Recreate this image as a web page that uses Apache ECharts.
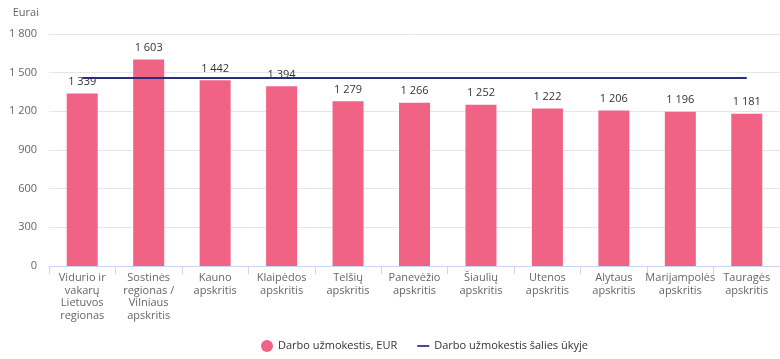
<!DOCTYPE html>
<html><head><meta charset="utf-8">
<script src="https://cdn.jsdelivr.net/npm/echarts@6/dist/echarts.min.js"></script>
<style>html,body{margin:0;padding:0;background:#fff}#c{width:780px;height:359px}</style>
</head><body><div id="c"></div>
<script>
const categories = ["Vidurio ir\nvakarų\nLietuvos\nregionas","Sostinės\nregionas /\nVilniaus\napskritis","Kauno\napskritis","Klaipėdos\napskritis","Telšių\napskritis","Panevėžio\napskritis","Šiaulių\napskritis","Utenos\napskritis","Alytaus\napskritis","Marijampolės\napskritis","Tauragės\napskritis"];
const wages = [1339,1603,1442,1394,1279,1266,1252,1222,1206,1196,1181];
const national = [1458,1458,1458,1458,1458,1458,1458,1458,1458,1458,1458];
const yTicks = {min:0, max:1800, interval:300};
const fmt = v => String(v).replace(/\B(?=(\d{3})+(?!\d))/g, ' ');
const FONT = '"Open Sans", "Noto Sans", sans-serif';
const chart = echarts.init(document.getElementById('c'));
chart.setOption({
  animation:false,
  textStyle:{fontFamily:FONT},
  grid:{left:49, right:0, top:34, bottom:93},
  legend:{bottom:2, left:256, itemGap:20, itemWidth:12, itemHeight:12,
    textStyle:{fontSize:11, color:'#333', fontFamily:FONT},
    data:[{name:'Darbo užmokestis, EUR', icon:'circle'},
          {name:'Darbo užmokestis šalies ūkyje', icon:'path://M0,0 L14,0 L14,2 L0,2 Z'}]},
  xAxis:{type:'category', data:categories,
    axisLine:{lineStyle:{color:'#ccd6eb'}},
    axisTick:{show:true, length:8, lineStyle:{color:'#ccd6eb'}},
    axisLabel:{color:'#666', fontSize:11, lineHeight:12.5, interval:0, margin:6, fontFamily:FONT}},
  yAxis:{type:'value', min:yTicks.min, max:yTicks.max, interval:yTicks.interval,
    name:'Eurai', nameLocation:'end', nameGap:16, nameTextStyle:{color:'#666', fontSize:11, align:'right', padding:[0,10,0,0]},
    axisLine:{show:false}, axisTick:{show:false},
    splitLine:{lineStyle:{color:'#e6e6e6'}},
    axisLabel:{color:'#666', fontSize:11, margin:12, formatter:fmt}},
  series:[
    {name:'Darbo užmokestis, EUR', type:'bar', data:wages, barWidth:31,
      itemStyle:{color:'#f06384'},
      label:{show:true, position:'top', distance:6, color:'#333', fontSize:11, formatter:p=>fmt(p.value)}},
    {name:'Darbo užmokestis šalies ūkyje', type:'line', data:national, symbol:'none',
      lineStyle:{color:'#2b2d7c', width:2}, itemStyle:{color:'#2b2d7c'}, z:5}
  ]
});
</script></body></html>
